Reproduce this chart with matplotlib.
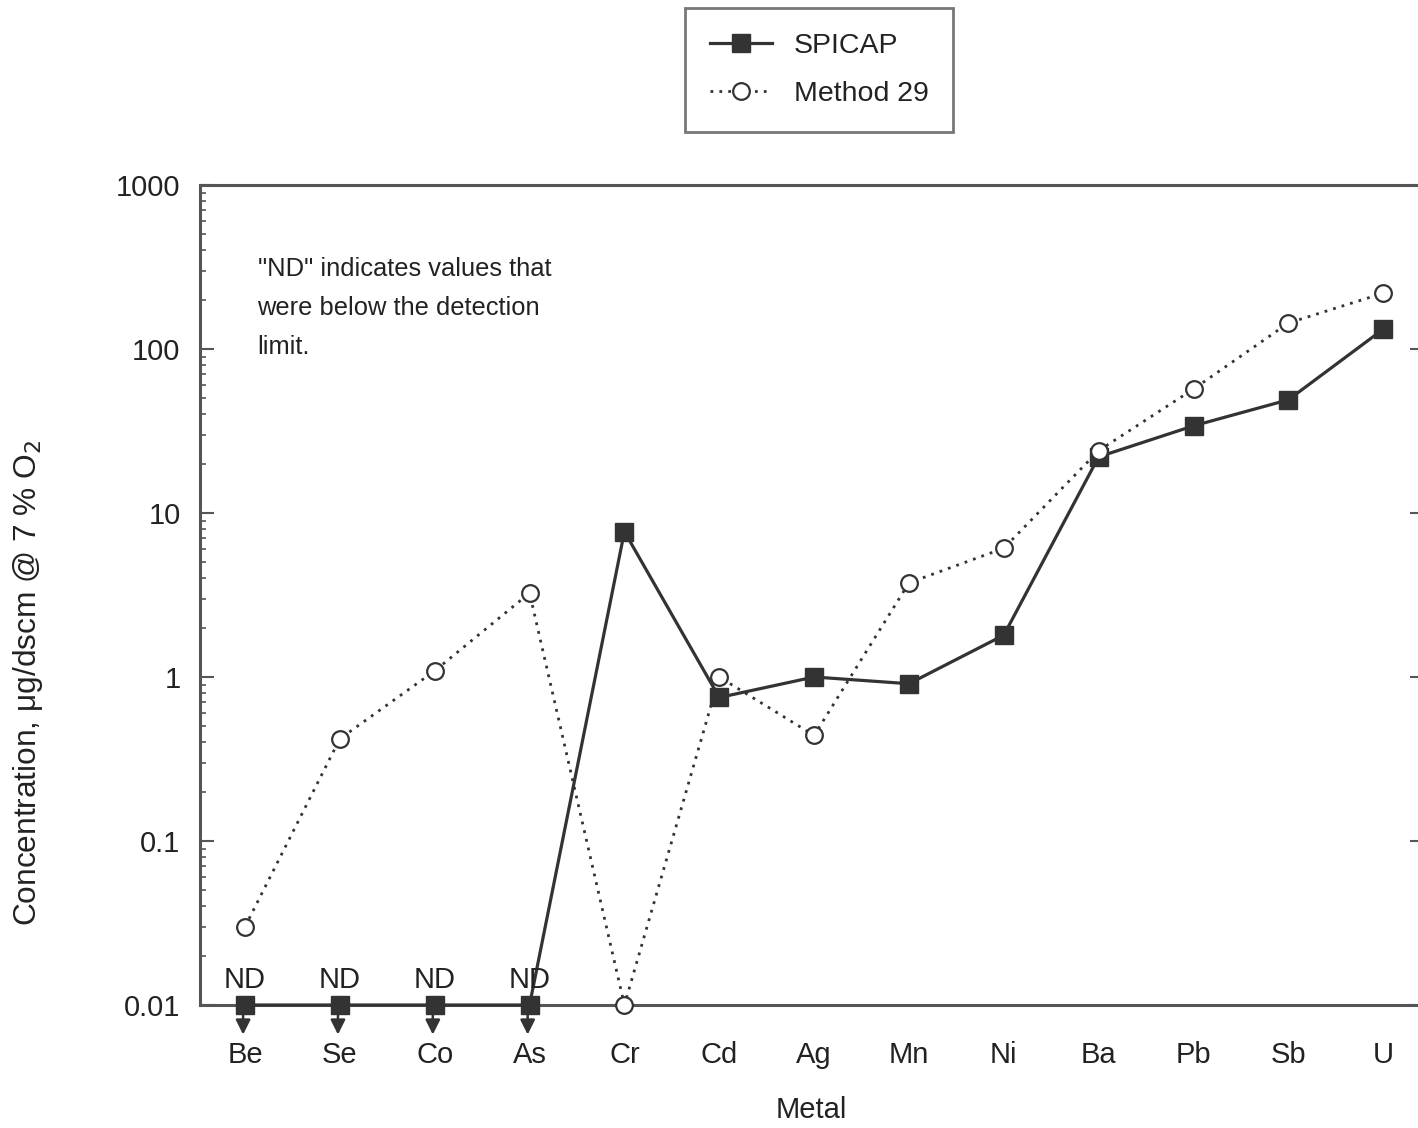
import matplotlib
matplotlib.use("Agg")
import matplotlib.pyplot as plt
from matplotlib import font_manager
from matplotlib.lines import Line2D

metals = ["Be", "Se", "Co", "As", "Cr", "Cd", "Ag", "Mn", "Ni", "Ba", "Pb", "Sb", "U"]
spicap = [0.01, 0.01, 0.01, 0.01, 7.7, 0.75, 1.0, 0.91, 1.8, 22, 34, 49, 132]
method29 = [0.030, 0.42, 1.09, 3.25, 0.01, 1.0, 0.44, 3.75, 6.1, 24, 57, 144, 219]
nd_flags = [True, True, True, True, False, False, False, False, False, False, False, False, False]
yticks = [0.01, 0.1, 1, 10, 100, 1000]
ytick_labels = ["0.01", "0.1", "1", "10", "100", "1000"]

# avoid the Narrow variant being chosen for "Liberation Sans"
font_manager.fontManager.ttflist = [f for f in font_manager.fontManager.ttflist
                                    if "Narrow" not in f.fname]
plt.rcParams['font.family'] = ['Liberation Sans', 'DejaVu Sans']

W, H = 1418, 1128
fig = plt.figure(figsize=(W / 100, H / 100), dpi=100)
ax_l, ax_r, ax_t, ax_b = 200, 1424, 185, 1005
ax = fig.add_axes([ax_l / W, 1 - ax_b / H, (ax_r - ax_l) / W, (ax_b - ax_t) / H])

line_col = "#333333"
spine_col = "#555555"
txt_col = "#222222"
x = list(range(len(metals)))

ax.plot(x, spicap, color=line_col, lw=2.3, marker="s", ms=13.5, mfc=line_col,
        mec=line_col, clip_on=False, zorder=4)
ax.plot(x, method29, color=line_col, lw=2.0, ls=(0, (1, 2.2)), marker="o", ms=12,
        mfc="white", mec=line_col, mew=1.6, clip_on=False, zorder=5)

ax.set_yscale("log")
ax.set_ylim(0.01, 1000)
ax.set_xlim(-0.4745, 12.43)
ax.set_yticks(yticks)
ax.set_yticklabels(ytick_labels)
ax.set_xticks(x)
ax.set_xticklabels(metals)

for s in ["left", "top", "bottom", "right"]:
    ax.spines[s].set_color(spine_col)
    ax.spines[s].set_linewidth(2.2)

ax.tick_params(axis="y", which="major", direction="in", length=10, width=1.5,
               color=spine_col, labelsize=21, pad=14, right=True, labelcolor=txt_col)
ax.tick_params(axis="y", which="minor", direction="in", length=4.5, width=1.2,
               color=spine_col, right=False)
ax.tick_params(axis="x", which="both", length=0, labelsize=21, pad=26, labelcolor=txt_col)

# ND labels and arrows
for i, flag in enumerate(nd_flags):
    if flag:
        ax.annotate("", xy=(i - 0.02, 0.0066), xytext=(i - 0.02, 0.01),
                    arrowprops=dict(arrowstyle="-|>", color=line_col, lw=1.8,
                                    mutation_scale=22, shrinkA=0, shrinkB=0),
                    annotation_clip=False, zorder=3)
        ax.text(i, 0.0116, "ND", ha="center", va="bottom", fontsize=21,
                color=txt_col, zorder=6)

ax.text(0.047, 0.912, "\"ND\" indicates values that\nwere below the detection\nlimit.",
        transform=ax.transAxes, ha="left", va="top", fontsize=18.4,
        color=txt_col, linespacing=1.78)

fig.text(28 / W, 1 - 683 / H, "Concentration, μg/dscm @ 7 % O$_2$", rotation=90,
         ha="center", va="center", fontsize=22.8, color=txt_col)
fig.text(811 / W, 1 - 1110 / H, "Metal", ha="center", va="center", fontsize=21,
         color=txt_col)

handles = [
    Line2D([], [], color=line_col, lw=2.3, marker="s", ms=13.5, mfc=line_col, mec=line_col),
    Line2D([], [], color=line_col, lw=2.0, ls=(0, (1, 2.2)), marker="o", ms=12,
           mfc="white", mec=line_col, mew=1.6),
]
leg = fig.legend(handles, ["SPICAP", "Method 29"], loc="center",
                 bbox_to_anchor=(819 / W, 1 - 70 / H), fontsize=20.5, frameon=True,
                 fancybox=False, edgecolor=spine_col, handlelength=2.2,
                 labelspacing=0.8, borderpad=0.85, handletextpad=0.75, borderaxespad=0)
leg.get_frame().set_linewidth(2.0)
for t in leg.get_texts():
    t.set_color(txt_col)

fig.savefig("out.png", dpi=100)
